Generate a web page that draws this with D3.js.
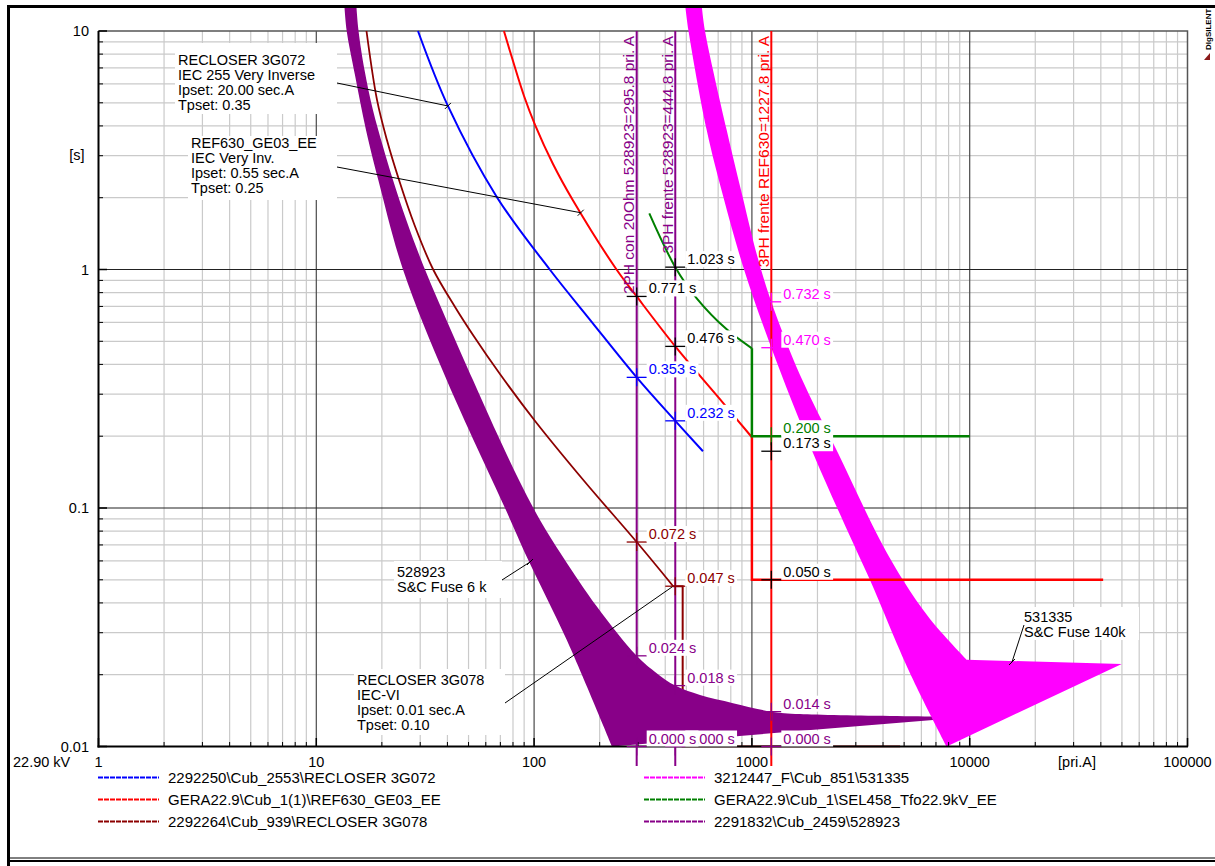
<!DOCTYPE html>
<html>
<head>
<meta charset="utf-8">
<script src="https://cdn.jsdelivr.net/npm/d3@7"></script>
<style>
  body { margin: 0; background: #fff; }
  text { font-family: "Liberation Sans", Arial, sans-serif; }
</style>
</head>
<body>
<svg id="chart" width="1215" height="866"></svg>
<script>
// ---- axis definitions ----
const currentTicks = [1, 10, 100, 1000, 10000, 100000];
const currentTickLabels = ["1", "10", "100", "1000", "10000", "100000"];
const timeTicks = [0.01, 0.1, 1, 10];
const timeTickLabels = ["0.01", "0.1", "1", "10"];

// ---- protection characteristics: [current pri.A, time s] ----
const recloser3G072 = [[29.3, 10], [40.2, 4.85], [67.5, 2.01], [118, 1.0], [181, 0.614], [295.8, 0.353], [444.8, 0.232], [596, 0.173]];
const ref630Curve = [[72.7, 10], [80.0, 7.48], [89.9, 5.34], [101, 4.04], [122.1, 2.77], [150.9, 1.947], [239, 1.0], [295.8, 0.771], [444.8, 0.476], [737, 0.276], [1000, 0.198]];
const ref630Step = [[1000, 0.198], [1000, 0.050], [41000, 0.050]];
const recloser3G078Curve = [[17.0, 10], [19.0, 5.14], [21.1, 3.49], [23.98, 2.373], [28.24, 1.537], [34.4, 1.0], [43.35, 0.6965], [52.42, 0.5314], [69.7, 0.3645], [101, 0.2317], [171.3, 0.1285], [295.8, 0.072], [435, 0.047]];
const recloser3G078Step = [[435, 0.047], [481, 0.047], [481, 0.01], [4790, 0.01]];
const sel458Curve = [[338, 1.72], [444.8, 1.023], [558, 0.757], [766, 0.561], [1000, 0.467]];
const sel458Step = [[1000, 0.467], [1000, 0.200], [10000, 0.200]];

// fuse bands: minimum melting, total clearing, straight end of the clearing curve
const fuse528923Melt = [[13.48, 12.49], [13.79, 10], [15.05, 6.54], [16.91, 3.846], [19.26, 2.373], [25.0, 1.0], [39.7, 0.344], [73.5, 0.1], [92.5, 0.0625], [141.1, 0.028], [228, 0.01]];
const fuse528923Clear = [[15.3, 12.49], [15.63, 10], [16.65, 6.86], [18.2, 4.66], [20.14, 3.327], [22.5, 2.373], [26.09, 1.582], [31.55, 1.0], [52.4, 0.344], [69.7, 0.1928], [86.1, 0.1285], [106.4, 0.0891], [135.7, 0.0623], [194.5, 0.0385], [295.8, 0.024], [365.5, 0.0203], [444.8, 0.018], [577.8, 0.01643], [819, 0.0152], [1227.8, 0.014], [1663, 0.01368], [10000, 0.0133]];
const fuse528923Tail = [];
const fuse531335Melt = [[495.6, 12.49], [511.6, 10], [620, 3.846], [739, 2.02], [920, 1.0], [1227.8, 0.470], [1908, 0.170], [2872, 0.0734], [3485, 0.0499], [5320, 0.0203], [7842, 0.01]];
const fuse531335Clear = [[590, 12.49], [609, 10], [766, 3.846], [891, 2.154], [1055, 1.15], [1227.8, 0.732], [1663, 0.361], [2485, 0.170], [3873, 0.0734], [4939, 0.0499], [6572, 0.03424], [9688, 0.0231]];
const fuse531335Tail = [[49880, 0.0222]];

// ---- fault current markers ----
const markerCurrents = [295.8, 444.8, 1227.8];
const markerTexts = ["2PH con 20Ohm 528923=295.8 pri. A", "3PH frente 528923=444.8 pri. A", "3PH frente REF630=1227.8 pri. A"];

// ---- operating times read at the markers ----
const readoutCurrents = [444.8, 295.8, 444.8, 295.8, 444.8, 1227.8, 1227.8, 1227.8, 1227.8, 1227.8, 295.8, 444.8, 295.8, 444.8, 1227.8, 444.8, 295.8, 1227.8];
const readoutTimes = [1.023, 0.771, 0.476, 0.353, 0.232, 0.732, 0.470, 0.200, 0.173, 0.050, 0.072, 0.047, 0.024, 0.018, 0.014, 0.000, 0.000, 0.000];
const readoutColors = ["#000", "#000", "#000", "#0000ff", "#0000ff", "#ff00ff", "#ff00ff", "#008000", "#000", "#000", "#8c0000", "#8c0000", "#880088", "#880088", "#880088", "#880088", "#880088", "#880088"];

// ---- legend ----
const legendNames = ["2292250\\Cub_2553\\RECLOSER 3G072", "GERA22.9\\Cub_1(1)\\REF630_GE03_EE", "2292264\\Cub_939\\RECLOSER 3G078",
                     "3212447_F\\Cub_851\\531335", "GERA22.9\\Cub_1\\SEL458_Tfo22.9kV_EE", "2291832\\Cub_2459\\528923"];
const legendColors = ["#0000ff", "#ff0000", "#8c0000", "#ff00ff", "#008000", "#880088"];

const C = { blue: "#0000ff", red: "#ff0000", dred: "#8c0000", mag: "#ff00ff", green: "#008000", purple: "#880088" };

const svg = d3.select("#chart");
svg.append("rect").attr("width", 1215).attr("height", 866).attr("fill", "#fff");

const x = d3.scaleLog().domain([1, 100000]).range([98.5, 1187.5]);
const y = d3.scaleLog().domain([0.01, 10]).range([746.5, 31]);
const yc = t => y(Math.max(t, 0.01));

// ---- grid ----
const grid = svg.append("g");
const minorX = [], minorY = [];
[1, 10, 100, 1000, 10000].forEach(d => { for (let m = 2; m <= 9; m++) minorX.push(d * m); });
[0.01, 0.1, 1].forEach(d => { for (let m = 2; m <= 9; m++) minorY.push(d * m); });
grid.selectAll(".mx").data(minorX).join("line")
  .attr("x1", d => x(d)).attr("x2", d => x(d)).attr("y1", 31).attr("y2", 746.5)
  .attr("stroke", "#cacaca").attr("stroke-width", 1.2);
grid.selectAll(".my").data(minorY).join("line")
  .attr("y1", d => y(d)).attr("y2", d => y(d)).attr("x1", 98.5).attr("x2", 1187.5)
  .attr("stroke", "#cacaca").attr("stroke-width", 1.2);
grid.selectAll(".MX").data(currentTicks.slice(1, -1)).join("line")
  .attr("x1", d => x(d)).attr("x2", d => x(d)).attr("y1", 31).attr("y2", 746.5)
  .attr("stroke", "#4a4a4a").attr("stroke-width", 1.2);
grid.selectAll(".MY").data(timeTicks.slice(1, -1)).join("line")
  .attr("y1", d => y(d)).attr("y2", d => y(d)).attr("x1", 98.5).attr("x2", 1187.5)
  .attr("stroke", "#222").attr("stroke-width", 1.2);
grid.append("path").attr("d", `M98.5,${y(10)}H${x(100000)}V746.5`)
  .attr("fill", "none").attr("stroke", "#555").attr("stroke-width", 1.5);

// ---- characteristics ----
svg.append("clipPath").attr("id", "plotClip").append("rect")
  .attr("x", 98.5).attr("y", 8).attr("width", 1089).attr("height", 739.5);
const plot = svg.append("g").attr("clip-path", "url(#plotClip)");

const smooth = d3.line().x(d => x(d[0])).y(d => y(d[1])).curve(d3.curveCatmullRom.alpha(0.5));
const straight = d3.line().x(d => x(d[0])).y(d => y(d[1]));
// melting curve down, straight tail out, clearing curve back up
const band = (melt, clear, tail) => {
  let d = smooth(melt);
  tail.slice().reverse().forEach(p => { d += `L${x(p[0])},${y(p[1])}`; });
  return d + smooth(clear.slice().reverse()).replace(/^M/, "L") + "Z";
};

plot.append("path").attr("d", smooth(recloser3G078Curve)).attr("fill", "none").attr("stroke", C.dred).attr("stroke-width", 1.8);
plot.append("path").attr("d", straight(recloser3G078Step)).attr("fill", "none").attr("stroke", C.dred).attr("stroke-width", 2);
plot.append("path").attr("d", band(fuse528923Melt, fuse528923Clear, fuse528923Tail)).attr("fill", C.purple);
plot.append("path").attr("d", band(fuse531335Melt, fuse531335Clear, fuse531335Tail)).attr("fill", C.mag);
plot.append("path").attr("d", smooth(recloser3G072)).attr("fill", "none").attr("stroke", C.blue).attr("stroke-width", 2);
plot.append("path").attr("d", smooth(ref630Curve)).attr("fill", "none").attr("stroke", C.red).attr("stroke-width", 2);
plot.append("path").attr("d", straight(ref630Step)).attr("fill", "none").attr("stroke", C.red).attr("stroke-width", 2.5);
plot.append("path").attr("d", smooth(sel458Curve)).attr("fill", "none").attr("stroke", C.green).attr("stroke-width", 2);
plot.append("path").attr("d", straight(sel458Step)).attr("fill", "none").attr("stroke", C.green).attr("stroke-width", 2.5);

// ---- axes ----
const axes = svg.append("g");
axes.append("line").attr("x1", 98.5).attr("x2", 98.5).attr("y1", 31).attr("y2", 747.5).attr("stroke", "#000").attr("stroke-width", 2);
axes.append("line").attr("x1", 97.5).attr("x2", 1188).attr("y1", 746.5).attr("y2", 746.5).attr("stroke", "#000").attr("stroke-width", 2);
axes.selectAll(".ty").data(minorY).join("line")
  .attr("x1", 98.5).attr("x2", 103).attr("y1", d => y(d)).attr("y2", d => y(d)).attr("stroke", "#000");
axes.selectAll(".tY").data(timeTicks).join("line")
  .attr("x1", 98.5).attr("x2", 107).attr("y1", d => y(d)).attr("y2", d => y(d)).attr("stroke", "#000").attr("stroke-width", 1.5);
axes.selectAll(".tx").data(minorX).join("line")
  .attr("y1", 746.5).attr("y2", 742).attr("x1", d => x(d)).attr("x2", d => x(d)).attr("stroke", "#000");
axes.selectAll(".tX").data(currentTicks).join("line")
  .attr("y1", 746.5).attr("y2", 738).attr("x1", d => x(d)).attr("x2", d => x(d)).attr("stroke", "#000").attr("stroke-width", 1.5);

axes.selectAll(".ly").data(timeTicks).join("text")
  .attr("x", 89).attr("y", d => y(d) + 5).attr("text-anchor", "end")
  .attr("font-size", 14.5).text((d, i) => timeTickLabels[i]);
axes.selectAll(".lx").data(currentTicks).join("text")
  .attr("x", d => x(d)).attr("y", 767).attr("text-anchor", "middle")
  .attr("font-size", 14.5).text((d, i) => currentTickLabels[i]);
axes.append("text").attr("x", 77).attr("y", 160).attr("text-anchor", "middle").attr("font-size", 14.5).text("[s]");
axes.append("text").attr("x", 1077).attr("y", 767).attr("text-anchor", "middle").attr("font-size", 14.5).text("[pri.A]");
axes.append("text").attr("x", 13).attr("y", 767).attr("font-size", 14.5).text("22.90 kV");

// ---- fault current marker lines ----
const markerColors = [C.purple, C.purple, C.red];
markerCurrents.forEach((I, i) => {
  svg.append("line").attr("x1", x(I)).attr("x2", x(I)).attr("y1", 31).attr("y2", 766)
    .attr("stroke", markerColors[i]).attr("stroke-width", 2);
  svg.append("text").attr("transform", `translate(${x(I) - 2.5},36) rotate(-90)`)
    .attr("text-anchor", "end").attr("font-size", 15.5).attr("fill", markerColors[i]).text(markerTexts[i]);
});

// ---- device annotations ----
const notes = svg.append("g");
function note(box, lines, tx, ty0, leader, mark) {
  notes.append("rect").attr("x", box[0]).attr("y", box[1]).attr("width", box[2]).attr("height", box[3]).attr("fill", "#fff");
  lines.forEach((s, k) => notes.append("text").attr("x", tx).attr("y", ty0 + k * 15).attr("font-size", 14.5).text(s));
  notes.append("line").attr("x1", leader[0]).attr("y1", leader[1]).attr("x2", leader[2]).attr("y2", leader[3])
    .attr("stroke", "#000").attr("stroke-width", 1);
  if (mark) notes.append("line").attr("x1", leader[2] - 3).attr("y1", leader[3] + 3).attr("x2", leader[2] + 3).attr("y2", leader[3] - 3)
    .attr("stroke", "#000").attr("stroke-width", 1);
}
note([175, 43, 162, 71], ["RECLOSER 3G072", "IEC 255 Very Inverse", "Ipset: 20.00 sec.A", "Tpset: 0.35"], 178, 65,
     [337, 83, x(40.2), y(4.85)], true);
note([188, 136, 149, 64], ["REF630_GE03_EE", "IEC Very Inv.", "Ipset: 0.55 sec.A", "Tpset: 0.25"], 191, 148,
     [337, 167, x(163.7), y(1.73)], true);
note([394, 561, 108, 37], ["528923", "S&C Fuse  6 k"], 397, 577, [502, 580, 530, 562], true);
note([354, 669, 151, 66], ["RECLOSER 3G078", "IEC-VI", "Ipset: 0.01 sec.A", "Tpset: 0.10"], 357, 685,
     [505, 703, x(435), y(0.047)], false);
note([1020, 607, 119, 33], ["531335", "S&C Fuse 140k"], 1024, 622, [1024, 625, 1012, 662], true);

// ---- operating time readouts ----
const readouts = svg.append("g");
readoutTimes.forEach((t, i) => {
  const cx = x(readoutCurrents[i]), cy = yc(t), col = readoutColors[i];
  const g = readouts.append("g");
  g.append("line").attr("x1", cx - 10).attr("x2", cx + 10).attr("y1", cy).attr("y2", cy).attr("stroke", col).attr("stroke-width", 1.3);
  g.append("line").attr("x1", cx).attr("x2", cx).attr("y1", cy - 9).attr("y2", cy + 9).attr("stroke", col).attr("stroke-width", 1.3);
  const label = t.toFixed(3) + " s";
  const box = g.append("rect").attr("fill", "#fff");
  const txt = g.append("text").attr("x", cx + 12).attr("y", cy - 3).attr("font-size", 14.5).attr("fill", col).text(label);
  const w = txt.node().getComputedTextLength();
  box.attr("x", cx + 10).attr("y", cy - 16).attr("width", w + 4.2).attr("height", 16);
});

// ---- legend ----
const legend = svg.append("g");
legendNames.forEach((name, i) => {
  const col = Math.floor(i / 3), row = i % 3;
  const lx = col === 0 ? 98 : 644, ly = 777.5 + row * 22;
  legend.append("line").attr("x1", lx).attr("x2", lx + 61).attr("y1", ly).attr("y2", ly)
    .attr("stroke", legendColors[i]).attr("stroke-width", 2).attr("stroke-dasharray", "5,1");
  legend.append("text").attr("x", lx + 70).attr("y", ly + 5).attr("font-size", 15).text(name);
});

// ---- frame and logo ----
svg.append("path").attr("d", "M8.5,866V6.5H1215").attr("fill", "none").attr("stroke", "#000").attr("stroke-width", 3);
svg.append("line").attr("x1", 8).attr("x2", 1215).attr("y1", 858).attr("y2", 858).attr("stroke", "#000").attr("stroke-width", 1);
svg.append("line").attr("x1", 8).attr("x2", 1215).attr("y1", 861).attr("y2", 861).attr("stroke", "#000").attr("stroke-width", 2);
svg.append("text").attr("transform", "translate(1211,50) rotate(-90)").attr("font-size", 8).attr("font-weight", "bold").text("DIgSILENT");
svg.append("path").attr("d", "M1204,60L1210,53V60Z").attr("fill", "#8b1a1a");
</script>
</body>
</html>
